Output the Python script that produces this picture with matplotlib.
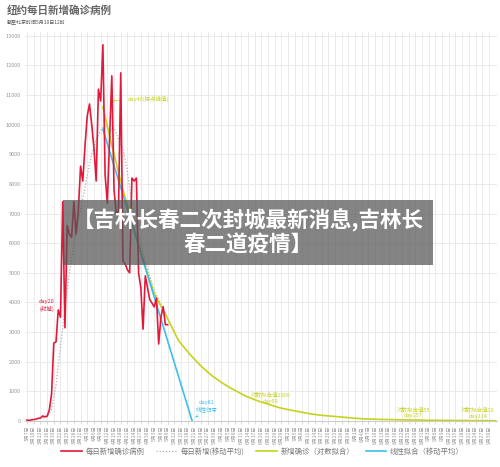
import datetime
import matplotlib
matplotlib.use("Agg")
import matplotlib.pyplot as plt
from matplotlib.patches import Rectangle

plt.rcParams['font.family'] = ['Noto Sans CJK SC', 'DejaVu Sans']

# day 1 = 3月1日
red_days = list(range(7, 71))
red_vals = [30, 20, 40, 50, 60, 90, 100, 170, 140, 160, 370, 900, 2630, 2670, 3750, 3500,
            7400, 3150, 6600, 6300, 6200, 7400, 6300, 7100, 8600, 8100, 9300, 10300, 10700,
            10000, 9200, 8100, 11200, 10800, 12700, 8300, 7350, 9500, 11650, 7800, 7000,
            7100, 11750, 5400, 5300, 5100, 5000, 8200, 8100, 8200, 5000, 4500, 3100, 4900,
            4500, 4100, 3980, 3850, 4150, 2600, 3500, 3860, 3250, 3250]

ma_days = [14, 16, 18, 20, 22, 24, 26, 28, 30, 32, 34, 36, 38, 40, 42, 44, 46, 48, 50,
           52, 54, 56, 58, 60, 62, 64, 66, 68, 70]
ma_vals = [100, 150, 400, 1200, 2500, 3800, 5000, 6000, 6800, 7500, 8300, 9000, 9500,
           9800, 10000, 9800, 9900, 9500, 9200, 8400, 7300, 6600, 6000, 5400, 4900, 4400,
           4100, 3800, 3500]

log_days = [41, 45, 50, 55, 60, 64, 69, 75, 80, 85, 90, 95, 99, 105, 110, 115, 120, 125,
            130, 135, 140, 150, 157, 165, 175, 185, 200, 214, 217]
log_vals = [10600, 9300, 7800, 6500, 5200, 4300, 3600, 2700, 2250, 1850, 1520, 1260, 1080,
            840, 690, 570, 450, 370, 300, 230, 185, 120, 75, 55, 38, 27, 16, 10, 9]

lin_days = [41, 81]
lin_vals = [9850, 0]

tick_days = list(range(7, 215, 3))
start = datetime.date(2020, 3, 1)
tick_labels = []
for d in tick_days:
    dt = start + datetime.timedelta(days=d - 1)
    tick_labels.append(f"{dt.month}月{dt.day}日")

RED = '#e4183a'
GRAY = '#b0b0b0'
YEL = '#c5d31c'
CYAN = '#3dbfec'

fig = plt.figure(figsize=(5, 4.67), dpi=100)
ax = fig.add_axes([0.05, 1 - 421 / 467, 0.944, (421 - 32) / 467])

ax.plot(ma_days, ma_vals, color=GRAY, lw=0.9, ls=(0, (1, 1.5)), zorder=3)
ax.plot(log_days, log_vals, color=YEL, lw=1.2, zorder=4)
ax.plot(lin_days, lin_vals, color=CYAN, lw=1.2, zorder=5)
ax.plot(red_days, red_vals, color=RED, lw=1.2, zorder=6)

ax.set_xlim(6.1, 217.6)
ax.set_ylim(0, 13130)
ax.set_yticks(range(0, 13001, 1000))
ax.set_yticklabels([str(v) for v in range(0, 13001, 1000)], fontsize=4, color='#999999')
ax.set_xticks(tick_days)
ax.set_xticklabels(tick_labels, rotation=90, fontsize=3.6, color='#999999')
ax.tick_params(axis='y', length=0, pad=3)
ax.tick_params(axis='x', length=2, width=0.4, color='#bbbbbb', pad=1.5)
ax.grid(True, color='#e8e8e8', lw=0.6)
ax.set_axisbelow(True)
for s in ['top', 'right', 'left']:
    ax.spines[s].set_visible(False)
ax.spines['bottom'].set_color('#cccccc')
ax.spines['bottom'].set_linewidth(0.8)

# annotations
ax.text(15.8, 3900, 'day20\n(封城)', color=RED, fontsize=4, ha='center', va='center',
        linespacing=1.4)
ax.annotate('day40(拐点峰值)', xy=(43.5, 10800), xytext=(52, 10870), color=YEL,
            fontsize=4, va='center',
            arrowprops=dict(arrowstyle='->', color=YEL, lw=0.6, ls='--'))
ax.annotate('day81\n线性归零', xy=(82.5, 120), xytext=(87.5, 500), color=CYAN,
            fontsize=4, ha='center', va='center', linespacing=1.3,
            arrowprops=dict(arrowstyle='->', color=CYAN, lw=0.6, ls='--'))
ax.text(116, 780, '对数拟合值1000\nday99', color=YEL, fontsize=4, ha='center',
        va='center', linespacing=1.3)
ax.text(180, 300, '对数拟合值55\nday157', color=YEL, fontsize=4, ha='center',
        va='center', linespacing=1.3)
ax.text(209, 270, '对数拟合值10\nday214', color=YEL, fontsize=4, ha='center',
        va='center', linespacing=1.3)

# title
fig.text(0.014, 1 - 11 / 467, '纽约每日新增确诊病例', fontsize=7.6, fontweight='bold',
         color='#666666', va='center')
fig.text(0.014, 1 - 23 / 467, '截至北京时间5月10日12时', fontsize=3.6, color='#555555',
         va='center')

# legend
handles = [plt.Line2D([], [], color=RED, lw=1.2),
           plt.Line2D([], [], color=GRAY, lw=0.9, ls=(0, (1, 1.5))),
           plt.Line2D([], [], color=YEL, lw=1.2),
           plt.Line2D([], [], color=CYAN, lw=1.2)]
names = ['每日新增确诊病例', '每日新增(移动平均)', '新增确诊（对数拟合）', '线性拟合（移动平均）']
leg = fig.legend(handles, names, loc='center', bbox_to_anchor=(0.525, 1 - 452 / 467),
                 ncol=4, frameon=False, fontsize=5.3, handlelength=2.8,
                 columnspacing=1.6, handletextpad=0.5)
for t in leg.get_texts():
    t.set_color('#777777')

# overlay banner
fig.patches.append(Rectangle((63 / 500, 1 - 265 / 467), 370 / 500, 65 / 467,
                             transform=fig.transFigure, facecolor='#555555',
                             alpha=0.72, edgecolor='none', zorder=10))
fig.text(248 / 500, 1 - 232 / 467, '【吉林长春二次封城最新消息,吉林长\n春二道疫情】',
         color='white', fontsize=15.5, fontweight='bold', ha='center', va='center',
         linespacing=1.1, zorder=11)

fig.savefig('out.png', dpi=100)
